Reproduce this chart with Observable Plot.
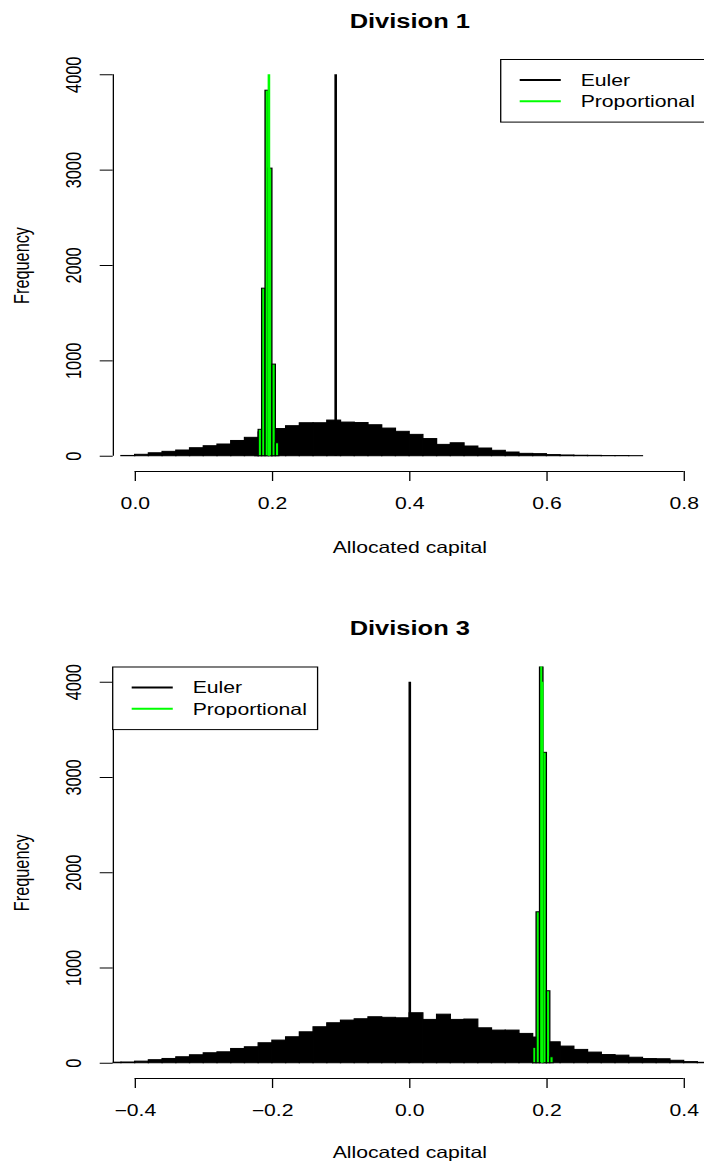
<!DOCTYPE html>
<html><head><meta charset="utf-8">
<script src="https://cdn.jsdelivr.net/npm/d3@7"></script>
<script src="https://cdn.jsdelivr.net/npm/@observablehq/plot@0.6"></script>
<style>
html,body{margin:0;padding:0;background:#fff;overflow:hidden;}
.panel{width:704px;overflow:hidden;position:relative;}
.panel svg{transform:scaleX(1.3);transform-origin:0 0;display:block;max-width:none !important;}
</style></head><body>
<div id="p1" class="panel"></div>
<div id="p2" class="panel"></div>
<script>
// ---------------- data ----------------
const yTicks = [0, 1000, 2000, 3000, 4000];
const xLabel = "Allocated capital";
const yLabel = "Frequency";
const legendNames = ["Euler", "Proportional"];
const refLineHeight = 4000;

// Division 1
const div1Title = "Division 1";
const div1XTicks = [0, 0.2, 0.4, 0.6, 0.8];
const div1EulerBinStart = -0.02;
const div1EulerBinWidth = 0.02;
const div1EulerCounts = [3, 15, 31, 46, 60, 84, 105, 123, 160, 193, 250, 285, 315, 346, 346, 374,
  353, 348, 325, 290, 256, 224, 180, 119, 136, 102, 81, 57, 39, 25, 22, 12, 8, 5, 4, 2, 2, 1];
const div1PropBinStart = 0.175;
const div1PropBinWidth = 0.005;
const div1PropCounts = [8, 277, 1757, 3833, 3016, 961, 136];
const div1EulerValue = 0.292;
const div1PropValue = 0.1947;

// Division 3
const div3Title = "Division 3";
const div3XTicks = [-0.4, -0.2, 0, 0.2, 0.4];
const div3EulerBinStart = -0.44;
const div3EulerBinWidth = 0.02;
const div3EulerCounts = [6, 8, 17, 32, 45, 63, 84, 105, 115, 150, 168, 210, 238, 273, 325, 378, 420,
  448, 462, 483, 477, 472, 525, 455, 510, 455, 459, 367, 343, 343, 308, 270, 220, 175, 140, 112,
  86, 80, 58, 44, 42, 26, 12, 5, 1];
const div3PropBinStart = 0.18;
const div3PropBinWidth = 0.005;
const div3PropCounts = [162, 1585, 4165, 3259, 756, 63];
const div3EulerValue = 0.0;
const div3PropValue = 0.193;

// ---------------- drawing ----------------
const K = 1.3;           // horizontal stretch of the reference
const FONT = '"Liberation Sans", Arial, Helvetica, sans-serif';
const FS = 16.3;
const GREEN = "#00FF00";

function bins(start, width, counts) {
  return counts.map((c, i) => ({
    x1: +(start + i * width).toFixed(6),
    x2: +(start + (i + 1) * width).toFixed(6),
    count: c
  }));
}

function panel(cfg) {
  const xlim = [cfg.xTicks[0], cfg.xTicks[cfg.xTicks.length - 1]];
  const ylim = [yTicks[0], yTicks[yTicks.length - 1]];
  const ex = 0.04 * (xlim[1] - xlim[0]);
  const ey = 0.04 * (ylim[1] - ylim[0]);
  const xDomain = [xlim[0] - ex, xlim[1] + ex];
  const yDomain = [ylim[0] - ey, ylim[1] + ey];
  const marginLeft = 112.7 / K;
  const width = 705.6 / K;
  const euler = bins(cfg.eulerStart, cfg.eulerWidth, cfg.eulerCounts);
  const prop = bins(cfg.propStart, cfg.propWidth, cfg.propCounts);

  const svg = Plot.plot({
    width, height: cfg.height,
    marginLeft, marginRight: 0, marginTop: cfg.marginTop, marginBottom: cfg.marginBottom,
    style: {fontFamily: FONT, fontSize: FS + "px", color: "black", background: "white", overflow: "visible"},
    x: {domain: xDomain},
    y: {domain: yDomain},
    marks: [
      Plot.rectY(euler, {x1: "x1", x2: "x2", y1: 0, y2: "count", fill: "black", stroke: "black", strokeWidth: 1, inset: 0, clip: true}),
      Plot.ruleX([cfg.eulerValue], {x: d => d, y1: 0, y2: refLineHeight, stroke: "black", strokeWidth: 2}),
      Plot.rectY(prop, {x1: "x1", x2: "x2", y1: 0, y2: "count", fill: GREEN, stroke: "black", strokeWidth: 1, inset: 0, clip: true}),
      Plot.ruleX([cfg.propValue], {x: d => d, y1: 0, y2: refLineHeight, stroke: GREEN, strokeWidth: 2}),
      // axes (R style)
      Plot.ruleX([xDomain[0]], {x: d => d, y1: ylim[0], y2: ylim[1], stroke: "black"}),
      Plot.axisY({ticks: yTicks, tickSize: 10, tickFormat: () => "", label: null}),
      Plot.text(yTicks, {y: d => d, text: d => String(d), frameAnchor: "left", dx: -30, rotate: -90,
        textAnchor: "middle", lineAnchor: "middle", fontSize: FS, fill: "black"}),
      Plot.ruleY([yDomain[0]], {y: d => d, x1: xlim[0], x2: xlim[1], stroke: "black"}),
      Plot.axisX({ticks: cfg.xTicks, tickSize: 10, tickPadding: 16, tickFormat: d3.format(".1f"), label: null, fontSize: FS}),
      Plot.text([cfg.title], {frameAnchor: "top", dy: -38, textAnchor: "middle", lineAnchor: "middle",
        fontWeight: "bold", fontSize: 19.6, fill: "black"}),
      Plot.text([xLabel], {frameAnchor: "bottom", dy: cfg.xLabelDy, textAnchor: "middle", lineAnchor: "middle",
        fontSize: FS, fill: "black"}),
      Plot.text([yLabel], {frameAnchor: "left", dx: -70.2, rotate: -90, textAnchor: "middle", lineAnchor: "middle",
        fontSize: FS, fill: "black"})
    ]
  });

  // legend
  const frameRight = width;
  const boxW = 157.6, boxH = 62.6;
  const bx = cfg.legend === "topright" ? frameRight - boxW : marginLeft;
  const by = cfg.marginTop;
  const g = d3.select(svg).append("g").attr("font-family", FONT).attr("font-size", FS).attr("text-anchor", "start");
  g.append("rect").attr("x", bx).attr("y", by + 0.5).attr("width", boxW).attr("height", boxH)
    .attr("fill", "white").attr("stroke", "black").attr("stroke-width", 1);
  const colors = ["black", GREEN];
  legendNames.forEach((name, i) => {
    const yy = by + 21 + i * 21.3;
    g.append("line").attr("x1", bx + 14.6).attr("x2", bx + 46.2).attr("y1", yy).attr("y2", yy)
      .attr("stroke", colors[i]).attr("stroke-width", 2);
    g.append("text").attr("x", bx + 61.5).attr("y", yy).attr("dy", "0.36em")
      .attr("text-anchor", "start").attr("fill", "black").text(name);
  });
  return svg;
}

document.getElementById("p1").style.height = "607px";
document.getElementById("p1").appendChild(panel({
  title: div1Title, xTicks: div1XTicks,
  eulerStart: div1EulerBinStart, eulerWidth: div1EulerBinWidth, eulerCounts: div1EulerCounts,
  propStart: div1PropBinStart, propWidth: div1PropBinWidth, propCounts: div1PropCounts,
  eulerValue: div1EulerValue, propValue: div1PropValue,
  height: 607, marginTop: 59, marginBottom: 136, xLabelDy: 76, legend: "topright"
}));
document.getElementById("p2").style.height = "555px";
document.getElementById("p2").appendChild(panel({
  title: div3Title, xTicks: div3XTicks,
  eulerStart: div3EulerBinStart, eulerWidth: div3EulerBinWidth, eulerCounts: div3EulerCounts,
  propStart: div3PropBinStart, propWidth: div3PropBinWidth, propCounts: div3PropCounts,
  eulerValue: div3EulerValue, propValue: div3PropValue,
  height: 555, marginTop: 59.5, marginBottom: 84, xLabelDy: 74, legend: "topleft"
}));
</script>
</body></html>
